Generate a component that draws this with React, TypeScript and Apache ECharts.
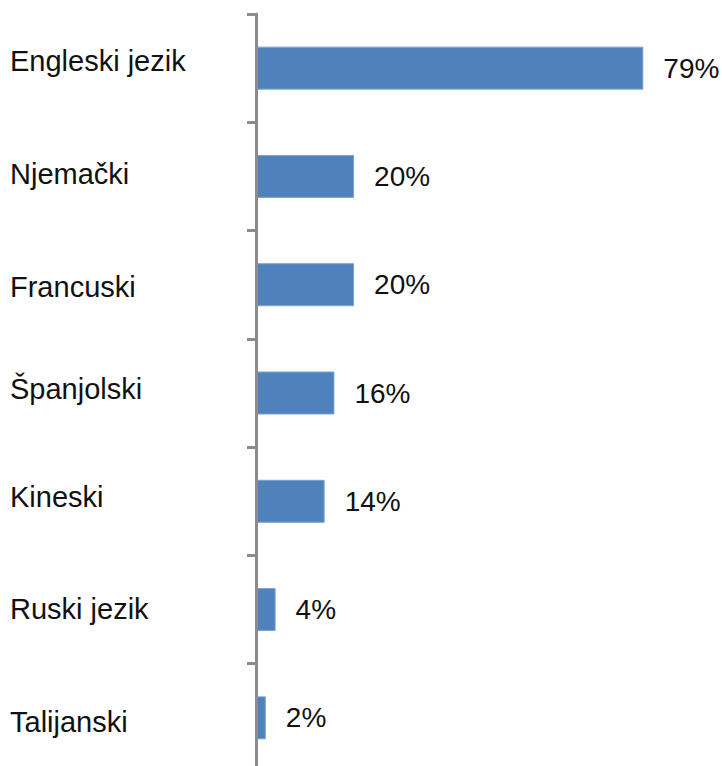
import React, { useEffect, useRef } from "react";
import * as echarts from "echarts";

const categories = ["Engleski jezik", "Njemački", "Francuski", "Španjolski", "Kineski", "Ruski jezik", "Talijanski"];
const values = [79, 20, 20, 16, 14, 4, 2];

// small vertical nudges of the category labels (px, negative = up), as seen in the reference
const labelNudge = [-7, -2, 2, -4, -4, -1, 4];

export default function App() {
  const ref = useRef<HTMLDivElement>(null);
  useEffect(() => {
    const chart = echarts.init(ref.current!, undefined, { renderer: "svg" });
    const rich: Record<string, any> = {};
    labelNudge.forEach((d, i) => {
      rich["c" + i] = {
        fontSize: 29,
        color: "#111111",
        fontFamily: "'Liberation Sans', Arial, sans-serif",
        padding: d < 0 ? [0, 0, -2 * d, 0] : [2 * d, 0, 0, 0],
      };
    });
    chart.setOption({
      animation: false,
      backgroundColor: "#ffffff",
      grid: { left: 256, top: 14, height: 758, width: 456, containLabel: false },
      xAxis: {
        type: "value",
        min: 0,
        max: 93,
        show: false,
      },
      yAxis: {
        type: "category",
        data: categories,
        inverse: true,
        z: 3,
        axisLine: { show: true, lineStyle: { color: "#8c8c8c", width: 3 } },
        axisTick: { show: true, length: 9, lineStyle: { color: "#8c8c8c", width: 3 } },
        axisLabel: {
          align: "left",
          margin: 246,
          fontSize: 29,
          color: "#111111",
          fontFamily: "'Liberation Sans', Arial, sans-serif",
          formatter: (v: string, i: number) => `{c${i}|${v}}`,
          rich,
        },
        splitLine: { show: false },
      },
      series: [
        {
          type: "bar",
          data: values,
          barWidth: 43,
          itemStyle: { color: "#4f81bd", borderColor: "#7ea2d2", borderWidth: 1 },
          label: {
            show: true,
            position: "right",
            distance: 20,
            formatter: "{c}%",
            fontSize: 28,
            color: "#111111",
            fontFamily: "'Liberation Sans', Arial, sans-serif",
          },
        },
      ],
    });
    return () => chart.dispose();
  }, []);
  return (
    <div style={{ position: "absolute", left: 0, top: 0, width: 722, height: 766, overflow: "hidden", background: "#ffffff" }}>
      <div ref={ref} style={{ width: 722, height: 790 }} />
    </div>
  );
}
